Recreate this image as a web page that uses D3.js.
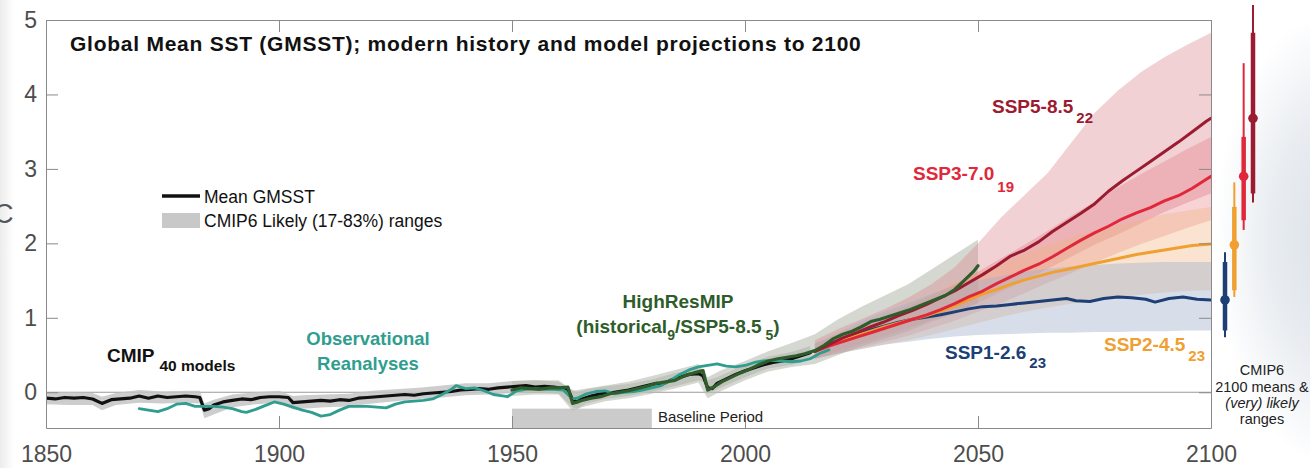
<!DOCTYPE html>
<html>
<head>
<meta charset="utf-8">
<script src="https://cdn.jsdelivr.net/npm/d3@7"></script>
<style>
  body { margin: 0; background: #fff; }
  svg { display: block; font-family: "Liberation Sans", Arial, Helvetica, sans-serif; }
</style>
</head>
<body>
<svg id="chart" width="1310" height="468"></svg>
<script>
// ---- Data: global mean SST anomaly (°C), [year, value] ----
const xTicks = [1850, 1900, 1950, 2000, 2050, 2100];
const yTicks = [0, 1, 2, 3, 4, 5];

// CMIP6 historical multi-model mean (40 models)
const cmipMean = [
  [1850,-0.08],[1852,-0.09],[1854,-0.07],[1856,-0.08],[1858,-0.07],[1860,-0.09],[1862,-0.15],
  [1864,-0.10],[1866,-0.09],[1868,-0.08],[1870,-0.05],[1872,-0.08],[1874,-0.05],[1876,-0.07],
  [1878,-0.06],[1880,-0.05],[1882,-0.06],[1883,-0.07],[1884,-0.24],[1885,-0.22],[1886,-0.17],
  [1888,-0.13],[1890,-0.11],[1892,-0.09],[1894,-0.10],[1896,-0.07],[1898,-0.06],[1900,-0.06],
  [1902,-0.07],[1903,-0.14],[1905,-0.13],[1907,-0.12],[1909,-0.11],[1911,-0.12],[1913,-0.10],
  [1915,-0.11],[1917,-0.08],[1919,-0.07],[1921,-0.06],[1923,-0.05],[1925,-0.04],[1927,-0.03],
  [1929,-0.04],[1931,-0.02],[1933,-0.01],[1935,0.00],[1937,0.01],[1939,0.03],[1941,0.04],
  [1943,0.05],[1945,0.04],[1947,0.06],[1949,0.07],[1951,0.08],[1953,0.09],[1955,0.07],
  [1957,0.08],[1959,0.07],[1961,0.05],[1962,0.04],[1963,-0.10],[1964,-0.13],[1965,-0.09],
  [1967,-0.05],[1969,-0.02],[1971,-0.01],[1973,0.01],[1975,0.03],[1977,0.06],[1979,0.09],
  [1981,0.12],[1982,0.10],[1984,0.16],[1986,0.20],[1988,0.24],[1990,0.25],[1991,0.22],
  [1992,0.06],[1993,0.05],[1994,0.12],[1996,0.18],[1998,0.24],[2000,0.29],[2002,0.33],
  [2004,0.37],[2006,0.40],[2008,0.42],[2010,0.45],[2012,0.49],[2014,0.53]
];

// CMIP6 likely (17-83%) range, historical: [year, low, high]
const cmipRange = [
  [1850,-0.16,-0.01],[1855,-0.17,0.00],[1860,-0.17,-0.01],[1862,-0.24,-0.06],[1865,-0.17,-0.01],
  [1870,-0.14,0.03],[1875,-0.15,0.01],[1880,-0.14,0.02],[1883,-0.15,0.02],[1884,-0.35,-0.15],
  [1886,-0.30,-0.10],[1890,-0.20,-0.03],[1895,-0.16,0.00],[1900,-0.14,0.02],[1903,-0.23,-0.05],
  [1905,-0.22,-0.04],[1910,-0.20,-0.03],[1915,-0.19,-0.02],[1920,-0.15,0.02],[1925,-0.12,0.04],
  [1930,-0.09,0.06],[1935,-0.07,0.09],[1940,-0.04,0.12],[1945,-0.03,0.12],[1950,-0.01,0.15],
  [1955,0.00,0.16],[1960,-0.02,0.14],[1963,-0.20,0.03],[1964,-0.22,0.00],[1966,-0.15,0.04],
  [1970,-0.09,0.08],[1975,-0.05,0.11],[1980,0.01,0.17],[1985,0.08,0.26],[1990,0.16,0.32],
  [1991,0.14,0.30],[1992,-0.02,0.16],[1994,0.04,0.20],[2000,0.20,0.37],[2005,0.32,0.48],
  [2010,0.37,0.54],[2014,0.44,0.62]
];

// Observational reanalyses
const obsMean = [
  [1870,-0.22],[1872,-0.24],[1874,-0.26],[1876,-0.22],[1878,-0.16],[1880,-0.15],[1882,-0.19],
  [1884,-0.19],[1886,-0.19],[1888,-0.20],[1890,-0.22],[1892,-0.26],[1893,-0.27],[1895,-0.23],
  [1897,-0.18],[1899,-0.13],[1901,-0.16],[1903,-0.20],[1905,-0.24],[1907,-0.27],[1909,-0.32],
  [1911,-0.30],[1913,-0.24],[1915,-0.19],[1917,-0.19],[1919,-0.19],[1921,-0.20],[1923,-0.21],
  [1925,-0.16],[1927,-0.13],[1929,-0.12],[1931,-0.11],[1933,-0.09],[1935,-0.03],[1937,0.04],
  [1938,0.09],[1940,0.05],[1942,0.06],[1944,0.02],[1946,-0.03],[1948,-0.05],[1949,-0.06],
  [1951,0.02],[1953,0.04],[1955,0.05],[1957,0.04],[1959,0.04],[1961,0.03],[1963,-0.09],
  [1964,-0.08],[1966,-0.02],[1968,0.01],[1970,0.02],[1972,-0.02],[1974,0.00],[1976,0.01],
  [1978,0.03],[1980,0.06],[1982,0.09],[1984,0.16],[1986,0.24],[1988,0.30],[1990,0.34],
  [1992,0.36],[1994,0.38],[1996,0.35],[1998,0.34],[2000,0.36],[2002,0.40],[2004,0.42],
  [2006,0.43],[2008,0.42],[2010,0.41],[2012,0.42],[2014,0.45],[2016,0.52],[2018,0.57]
];

// HighResMIP (historical / SSP5-8.5)
const hrMean = [
  [1950,0.03],[1952,0.06],[1954,0.05],[1956,0.04],[1958,0.06],[1960,0.06],[1962,0.07],
  [1963,-0.15],[1965,-0.11],[1967,-0.08],[1969,-0.06],[1971,-0.02],[1973,0.00],[1975,0.02],
  [1977,0.05],[1979,0.08],[1981,0.12],[1983,0.14],[1985,0.16],[1987,0.22],[1989,0.26],
  [1991,0.29],[1992,0.03],[1993,0.06],[1995,0.14],[1997,0.20],[1999,0.26],[2001,0.31],
  [2003,0.37],[2005,0.42],[2007,0.45],[2009,0.47],[2011,0.49],[2013,0.52],[2015,0.56],
  [2017,0.63],[2019,0.72],[2021,0.78],[2023,0.82],[2025,0.88],[2027,0.95],[2029,0.98],
  [2031,1.02],[2033,1.06],[2035,1.10],[2037,1.15],[2039,1.20],[2041,1.25],[2043,1.30],
  [2045,1.38],[2047,1.50],[2049,1.62],[2050,1.70]
];
const hrRange = [
  [1950,-0.05,0.15],[1955,-0.03,0.16],[1960,-0.03,0.16],[1963,-0.25,0.02],[1965,-0.20,0.04],
  [1970,-0.12,0.09],[1975,-0.08,0.14],[1980,-0.02,0.22],[1985,0.05,0.30],[1990,0.13,0.38],
  [1992,-0.08,0.20],[1995,0.02,0.30],[2000,0.16,0.42],[2005,0.28,0.55],[2010,0.34,0.66],
  [2015,0.38,0.78],[2020,0.50,0.98],[2025,0.62,1.15],[2030,0.72,1.30],[2035,0.82,1.45],
  [2040,0.95,1.65],[2045,1.05,1.85],[2050,1.20,2.05]
];

// CMIP6 scenario means
const ssp585Mean = [
  [2015,0.55],[2018,0.64],[2021,0.73],[2024,0.80],[2027,0.88],[2030,0.95],[2033,1.03],
  [2036,1.10],[2039,1.18],[2042,1.27],[2045,1.36],[2048,1.47],[2051,1.58],[2054,1.70],
  [2057,1.83],[2060,1.91],[2063,2.02],[2066,2.16],[2069,2.28],[2072,2.40],[2075,2.53],
  [2078,2.70],[2081,2.84],[2084,2.97],[2087,3.10],[2090,3.23],[2093,3.36],[2096,3.50],
  [2099,3.64],[2100,3.68]
];
const ssp370Mean = [
  [2015,0.55],[2018,0.62],[2021,0.68],[2024,0.74],[2027,0.80],[2030,0.86],[2033,0.92],
  [2036,0.98],[2039,1.04],[2042,1.11],[2045,1.19],[2048,1.28],[2051,1.36],[2054,1.46],
  [2057,1.55],[2060,1.64],[2063,1.72],[2066,1.82],[2069,1.93],[2072,2.04],[2075,2.14],
  [2078,2.23],[2081,2.33],[2084,2.41],[2087,2.48],[2090,2.57],[2093,2.64],[2096,2.74],
  [2099,2.86],[2100,2.90]
];
const ssp245Mean = [
  [2015,0.55],[2018,0.63],[2021,0.70],[2024,0.76],[2027,0.82],[2030,0.88],[2033,0.93],
  [2036,0.98],[2039,1.03],[2042,1.09],[2045,1.16],[2048,1.24],[2051,1.32],[2054,1.38],
  [2057,1.45],[2060,1.51],[2063,1.56],[2066,1.61],[2069,1.65],[2072,1.69],[2075,1.73],
  [2078,1.77],[2081,1.81],[2084,1.85],[2087,1.88],[2090,1.91],[2093,1.94],[2096,1.97],
  [2100,1.99]
];
const ssp126Mean = [
  [2015,0.55],[2018,0.64],[2021,0.71],[2024,0.78],[2027,0.84],[2030,0.89],[2033,0.94],
  [2036,0.98],[2039,1.01],[2042,1.04],[2045,1.08],[2048,1.12],[2051,1.15],[2054,1.16],
  [2057,1.18],[2060,1.20],[2063,1.22],[2066,1.24],[2069,1.26],[2071,1.23],[2074,1.22],
  [2077,1.26],[2080,1.28],[2083,1.27],[2086,1.25],[2088,1.21],[2091,1.26],[2094,1.28],
  [2097,1.25],[2100,1.24]
];

// CMIP6 likely ranges per scenario: [year, low, high]
const ssp585Range = [
  [2015,0.45,0.70],[2020,0.55,0.85],[2025,0.65,0.98],[2030,0.76,1.12],[2035,0.86,1.27],
  [2040,0.97,1.45],[2045,1.08,1.68],[2050,1.20,2.00],[2055,1.35,2.35],[2060,1.50,2.65],
  [2065,1.66,2.95],[2070,1.82,3.35],[2075,1.98,3.75],[2080,2.12,4.05],[2085,2.27,4.30],
  [2090,2.42,4.50],[2095,2.55,4.67],[2100,2.67,4.83]
];
const ssp370Range = [
  [2015,0.45,0.65],[2020,0.52,0.78],[2025,0.60,0.90],[2030,0.68,1.02],[2035,0.76,1.15],
  [2040,0.86,1.30],[2045,0.96,1.45],[2050,1.08,1.62],[2055,1.20,1.80],[2060,1.33,1.98],
  [2065,1.47,2.17],[2070,1.60,2.37],[2075,1.74,2.56],[2080,1.87,2.75],[2085,1.99,2.93],
  [2090,2.10,3.10],[2095,2.21,3.27],[2100,2.31,3.43]
];
const ssp245Range = [
  [2015,0.45,0.65],[2020,0.52,0.80],[2025,0.58,0.92],[2030,0.64,1.05],[2035,0.70,1.18],
  [2040,0.77,1.32],[2045,0.85,1.46],[2050,0.93,1.60],[2055,1.01,1.74],[2060,1.08,1.86],
  [2065,1.14,1.98],[2070,1.19,2.08],[2075,1.24,2.17],[2080,1.28,2.25],[2085,1.31,2.32],
  [2090,1.34,2.39],[2095,1.36,2.44],[2100,1.37,2.49]
];
const ssp126Range = [
  [2015,0.45,0.65],[2020,0.52,0.80],[2025,0.58,0.95],[2030,0.64,1.08],[2035,0.68,1.20],
  [2040,0.72,1.32],[2045,0.75,1.42],[2050,0.77,1.50],[2055,0.78,1.56],[2060,0.79,1.62],
  [2065,0.80,1.66],[2070,0.80,1.69],[2075,0.81,1.71],[2080,0.81,1.73],[2085,0.82,1.74],
  [2090,0.82,1.75],[2095,0.83,1.75],[2100,0.83,1.75]
];

// 2100 summary: means, likely (thick) and very likely (thin) ranges
const barScenarios = ["SSP1-2.6", "SSP2-4.5", "SSP3-7.0", "SSP5-8.5"];
const barMeans     = [1.24, 1.98, 2.90, 3.68];
const barLikelyLo  = [0.83, 1.37, 2.31, 2.67];
const barLikelyHi  = [1.75, 2.49, 3.43, 4.83];
const barVeryLo    = [0.74, 1.28, 2.18, 2.55];
const barVeryHi    = [1.88, 2.82, 4.42, 5.20];

// ---- Styling ----
const colors = {
  "SSP1-2.6": "#1d3f73",
  "SSP2-4.5": "#f0a030",
  "SSP3-7.0": "#e0283a",
  "SSP5-8.5": "#9b1b30",
  cmip: "#111111",
  obs: "#2f9e8f",
  hr: "#2f5c2b"
};

const svg = d3.select("#chart");
const pLeft = 46, pRight = 1211, pTop = 20, pBottom = 428;
const x = d3.scaleLinear().domain([1850, 2100]).range([pLeft, pRight]);
const y = d3.scaleLinear().domain([-0.48, 5]).range([pBottom, pTop]);

const defs = svg.append("defs");
defs.append("clipPath").attr("id", "plotClip")
  .append("rect").attr("x", pLeft).attr("y", pTop).attr("width", pRight - pLeft).attr("height", pBottom - pTop);
const rg = defs.append("radialGradient").attr("id", "sideShade")
  .attr("gradientUnits", "userSpaceOnUse")
  .attr("cx", 1335).attr("cy", 240).attr("r", 120)
  .attr("gradientTransform", "translate(1335,240) scale(1,1.9) translate(-1335,-240)");
rg.append("stop").attr("offset", "0%").attr("stop-color", "#dbe1e8");
rg.append("stop").attr("offset", "55%").attr("stop-color", "#e9edf1");
rg.append("stop").attr("offset", "100%").attr("stop-color", "#ffffff");
const lg = defs.append("linearGradient").attr("id", "leftShade");
lg.append("stop").attr("offset", "0%").attr("stop-color", "#ececec");
lg.append("stop").attr("offset", "100%").attr("stop-color", "#ffffff");

// soft shading at the page edges
svg.append("rect").attr("x", 1212).attr("y", 0).attr("width", 98).attr("height", 468)
  .attr("fill", "url(#sideShade)");
svg.append("rect").attr("x", 0).attr("y", 0).attr("width", 14).attr("height", 468)
  .attr("fill", "url(#leftShade)");

const area = d3.area().x(d => x(d[0])).y0(d => y(d[1])).y1(d => y(d[2]));
const line = d3.line().x(d => x(d[0])).y(d => y(d[1]));

const plot = svg.append("g").attr("clip-path", "url(#plotClip)");

// zero reference line
plot.append("line")
  .attr("x1", pLeft).attr("x2", pRight).attr("y1", y(0)).attr("y2", y(0))
  .attr("stroke", "#9a9a9a").attr("stroke-width", 1);

// baseline period 1950-1980
plot.append("rect")
  .attr("x", x(1950)).attr("width", x(1980) - x(1950))
  .attr("y", y(-0.22)).attr("height", y(-0.48) - y(-0.22))
  .attr("fill", "#cbcbcb");

// uncertainty bands
plot.append("path").datum(cmipRange).attr("d", area).attr("fill", "#c4c4c4").attr("opacity", 0.85);
plot.append("path").datum(hrRange).attr("d", area).attr("fill", "#b9bdb2").attr("opacity", 0.6);
plot.append("path").datum(ssp585Range).attr("d", area).attr("fill", "#d9868e").attr("opacity", 0.38);
plot.append("path").datum(ssp370Range).attr("d", area).attr("fill", "#e2606c").attr("opacity", 0.28);
plot.append("path").datum(ssp245Range).attr("d", area).attr("fill", "#f2b27a").attr("opacity", 0.35);
plot.append("path").datum(ssp126Range).attr("d", area).attr("fill", "#9fb0cc").attr("opacity", 0.42);

// mean lines
const drawLine = (data, color, width) =>
  plot.append("path").datum(data).attr("d", line)
    .attr("fill", "none").attr("stroke", color).attr("stroke-width", width)
    .attr("stroke-linejoin", "round").attr("stroke-linecap", "round");

drawLine(cmipMean, colors.cmip, 3.2);
drawLine(obsMean, colors.obs, 2.8);
drawLine(ssp126Mean, colors["SSP1-2.6"], 3);
drawLine(ssp245Mean, colors["SSP2-4.5"], 3);
drawLine(ssp370Mean, colors["SSP3-7.0"], 3);
drawLine(ssp585Mean, colors["SSP5-8.5"], 3);
drawLine(hrMean, colors.hr, 3.2);

// ---- Axes ----
const styleAxis = g => {
  g.attr("font-family", null).attr("font-size", null);
  g.select(".domain").attr("stroke", "#8a8a8a");
  g.selectAll(".tick line").attr("stroke", "#8a8a8a");
  g.selectAll(".tick text").attr("fill", "#4d4d4d").attr("font-size", 23);
};

svg.append("g").attr("transform", `translate(${pLeft},0)`)
  .call(d3.axisLeft(y).tickValues(yTicks).tickSize(-12).tickSizeOuter(0).tickPadding(9).tickFormat(d3.format("d")))
  .call(styleAxis);
svg.append("g").attr("transform", `translate(${pRight},0)`)
  .call(d3.axisRight(y).tickValues(yTicks).tickSize(-12).tickSizeOuter(0).tickFormat(""))
  .call(styleAxis);
svg.append("g").attr("transform", `translate(0,${pBottom})`)
  .call(d3.axisBottom(x).tickValues(xTicks).tickSize(-12).tickSizeOuter(0).tickPadding(18).tickFormat(d3.format("d")))
  .call(styleAxis);
svg.append("g").attr("transform", `translate(0,${pTop})`)
  .call(d3.axisTop(x).tickValues(xTicks).tickSize(-12).tickSizeOuter(0).tickFormat(""))
  .call(styleAxis);

// unit label, running off the left page edge
svg.append("text").attr("x", -6).attr("y", 223).attr("font-size", 27).attr("fill", "#555").text("C");

// ---- 2100 summary bars ----
const bx = d3.scalePoint().domain(barScenarios).range([1225, 1253]);
const bars = svg.append("g");
barScenarios.forEach((s, i) => {
  const c = colors[s];
  bars.append("line").attr("x1", bx(s)).attr("x2", bx(s))
    .attr("y1", y(barVeryLo[i])).attr("y2", y(barVeryHi[i]))
    .attr("stroke", c).attr("stroke-width", 2);
  bars.append("line").attr("x1", bx(s)).attr("x2", bx(s))
    .attr("y1", y(barLikelyLo[i])).attr("y2", y(barLikelyHi[i]))
    .attr("stroke", c).attr("stroke-width", 4.5);
  bars.append("circle").attr("cx", bx(s)).attr("cy", y(barMeans[i])).attr("r", 4.8).attr("fill", c);
});

// ---- Text ----
svg.append("text").attr("x", 70).attr("y", 51)
  .attr("font-size", 21).attr("letter-spacing", 0.75).attr("font-weight", "bold").attr("fill", "#111")
  .text("Global Mean SST (GMSST); modern history and model projections to 2100");

// legend
svg.append("line").attr("x1", 162).attr("x2", 200).attr("y1", 196).attr("y2", 196)
  .attr("stroke", "#111").attr("stroke-width", 3.5);
svg.append("text").attr("x", 204).attr("y", 203).attr("font-size", 17.5).attr("fill", "#111").text("Mean GMSST");
svg.append("rect").attr("x", 162).attr("y", 213).attr("width", 38).attr("height", 15).attr("fill", "#c8c8c8");
svg.append("text").attr("x", 204).attr("y", 227).attr("font-size", 17.5).attr("fill", "#111")
  .text("CMIP6 Likely (17-83%) ranges");

// label with subscript
function subLabel(xPos, yPos, main, sub, color, size, subSize, drop, gap) {
  const t = svg.append("text").attr("x", xPos).attr("y", yPos)
    .attr("font-weight", "bold").attr("fill", color).attr("font-size", size);
  t.append("tspan").text(main);
  t.append("tspan").attr("dx", gap).attr("dy", drop).attr("font-size", subSize).text(sub);
  return t;
}
subLabel(107, 362, "CMIP", "40 models", "#111", 19, 15.5, 9, 5);
subLabel(992, 113, "SSP5-8.5", "22", colors["SSP5-8.5"], 19, 15, 10, 3);
subLabel(913, 180, "SSP3-7.0", "19", colors["SSP3-7.0"], 19, 15, 12, 3);
subLabel(945, 359, "SSP1-2.6", "23", colors["SSP1-2.6"], 19, 15, 9, 3);
subLabel(1104, 351, "SSP2-4.5", "23", colors["SSP2-4.5"], 19, 15, 10, 3);

svg.append("text").attr("x", 368).attr("y", 345).attr("text-anchor", "middle")
  .attr("font-size", 18.5).attr("font-weight", "bold").attr("fill", colors.obs).text("Observational");
svg.append("text").attr("x", 368).attr("y", 370).attr("text-anchor", "middle")
  .attr("font-size", 18.5).attr("font-weight", "bold").attr("fill", colors.obs).text("Reanalyses");

svg.append("text").attr("x", 678).attr("y", 308).attr("text-anchor", "middle")
  .attr("font-size", 19).attr("font-weight", "bold").attr("fill", colors.hr).text("HighResMIP");
const hrLab = svg.append("text").attr("x", 678).attr("y", 333).attr("text-anchor", "middle")
  .attr("font-size", 19).attr("font-weight", "bold").attr("fill", colors.hr);
hrLab.append("tspan").text("(historical");
hrLab.append("tspan").attr("dy", 7).attr("font-size", 14).text("9");
hrLab.append("tspan").attr("dy", -7).text("/SSP5-8.5");
hrLab.append("tspan").attr("dx", 4).attr("dy", 7).attr("font-size", 14).text("5");
hrLab.append("tspan").attr("dy", -7).text(")");

svg.append("text").attr("x", 658).attr("y", 422).attr("font-size", 15).attr("fill", "#222").text("Baseline Period");

const note = svg.append("text").attr("text-anchor", "middle").attr("font-size", 14.5).attr("fill", "#222");
note.append("tspan").attr("x", 1262).attr("y", 375).text("CMIP6");
note.append("tspan").attr("x", 1262).attr("y", 392).text("2100 means &");
note.append("tspan").attr("x", 1262).attr("y", 408).attr("font-style", "italic").text("(very) likely");
note.append("tspan").attr("x", 1262).attr("y", 424).text("ranges");
</script>
</body>
</html>
